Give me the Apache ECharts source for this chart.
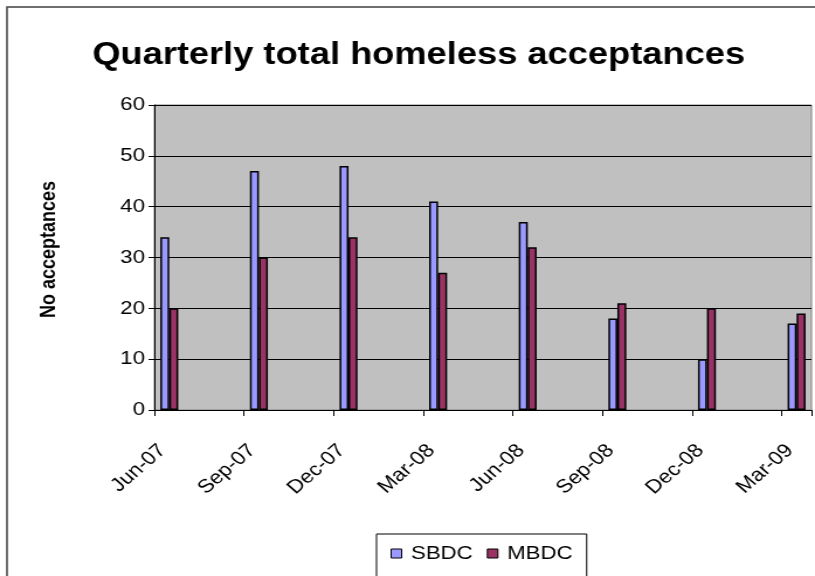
<!DOCTYPE html>
<html>
<head>
<meta charset="utf-8">
<script src="https://cdn.jsdelivr.net/npm/echarts@6/dist/echarts.min.js"></script>
<style>
html,body{margin:0;padding:0;background:#fff;overflow:hidden;}
/* the reference is a slightly widened Excel picture, so draw narrower and stretch */
#main{width:697px;height:576px;transform:scaleX(1.1693);transform-origin:0 0;}
</style>
</head>
<body>
<div id="main"></div>
<script>
// monthly slots of the date axis
var months = ['Jun-07','Jul-07','Aug-07','Sep-07','Oct-07','Nov-07','Dec-07','Jan-08','Feb-08','Mar-08','Apr-08','May-08',
	'Jun-08','Jul-08','Aug-08','Sep-08','Oct-08','Nov-08','Dec-08','Jan-09','Feb-09','Mar-09'];
// quarters that carry data (and labels)
var quarters = ['Jun-07','Sep-07','Dec-07','Mar-08','Jun-08','Sep-08','Dec-08','Mar-09'];
var sbdcData = [34, 47, 48, 41, 37, 18, 10, 17];
var mbdcData = [20, 30, 34, 27, 32, 21, 20, 19];
var yMin = 0, yMax = 60, yStep = 10;

var font = "'Liberation Sans', Arial, sans-serif";

function spread(vals) {
	return months.map(function (m) {
		var i = quarters.indexOf(m);
		return i < 0 ? null : vals[i];
	});
}
function isQuarter(idx, val) {
	return quarters.indexOf(months[idx]) >= 0;
}

var chart = echarts.init(document.getElementById('main'));
var option = {
	backgroundColor: '#fff',
	animation: false,
	textStyle: { fontFamily: font },
	title: {
		text: 'Quarterly total homeless acceptances',
		left: 353, textAlign: 'center', top: 35,
		textStyle: { fontFamily: font, fontSize: 31, fontWeight: 'bold', color: '#000' }
	},
	graphic: [{
		type: 'rect', z: -1, silent: true,
		shape: { x: 6, y: 7, width: 1200, height: 1200 },
		style: { fill: 'none', stroke: '#404040', lineWidth: 1.5 }
	}],
	legend: {
		data: ['SBDC', 'MBDC'],
		left: 322, top: 534,
		icon: 'rect', itemWidth: 9, itemHeight: 9, itemGap: 12,
		padding: [10, 12, 14, 12],
		borderColor: '#000', borderWidth: 1, backgroundColor: '#fff',
		itemStyle: { borderColor: '#000', borderWidth: 1 },
		textStyle: { fontFamily: font, fontSize: 19, color: '#000', padding: [0, 0, 0, 3] }
	},
	grid: {
		left: 132, right: 3, top: 105, bottom: 166,
		show: true, backgroundColor: '#c0c0c0', borderColor: '#808080', borderWidth: 1
	},
	xAxis: {
		type: 'category',
		data: months,
		boundaryGap: true,
		axisLine: { lineStyle: { color: '#000', width: 1 } },
		axisTick: { show: true, alignWithLabel: false, interval: isQuarter, length: 6, lineStyle: { color: '#000' } },
		axisLabel: {
			interval: isQuarter, rotate: 45, margin: 32, padding: [0, 8, 0, 0],
			fontFamily: font, fontSize: 19, color: '#000'
		},
		splitLine: { show: false }
	},
	yAxis: {
		type: 'value', min: yMin, max: yMax, interval: yStep,
		name: 'No acceptances', nameLocation: 'middle', nameGap: 81, nameRotate: 90,
		nameTextStyle: { fontFamily: font, fontSize: 18, fontWeight: 'bold', color: '#000', padding: [0, 0, 0, 16] },
		axisLine: { show: true, lineStyle: { color: '#000', width: 1 } },
		axisTick: { show: true, length: 5, lineStyle: { color: '#000' } },
		axisLabel: { margin: 8, fontFamily: font, fontSize: 19, color: '#000' },
		splitLine: { show: true, lineStyle: { color: '#000', width: 1 } }
	},
	series: [{
		name: 'SBDC', type: 'bar', data: spread(sbdcData),
		barGap: '0%', barCategoryGap: '40%',
		itemStyle: { color: '#9999ff', borderColor: '#000', borderWidth: 1.5 }
	}, {
		name: 'MBDC', type: 'bar', data: spread(mbdcData),
		barGap: '0%', barCategoryGap: '40%',
		itemStyle: { color: '#993366', borderColor: '#000', borderWidth: 1.5 }
	}]
};
chart.setOption(option);
</script>
</body>
</html>
